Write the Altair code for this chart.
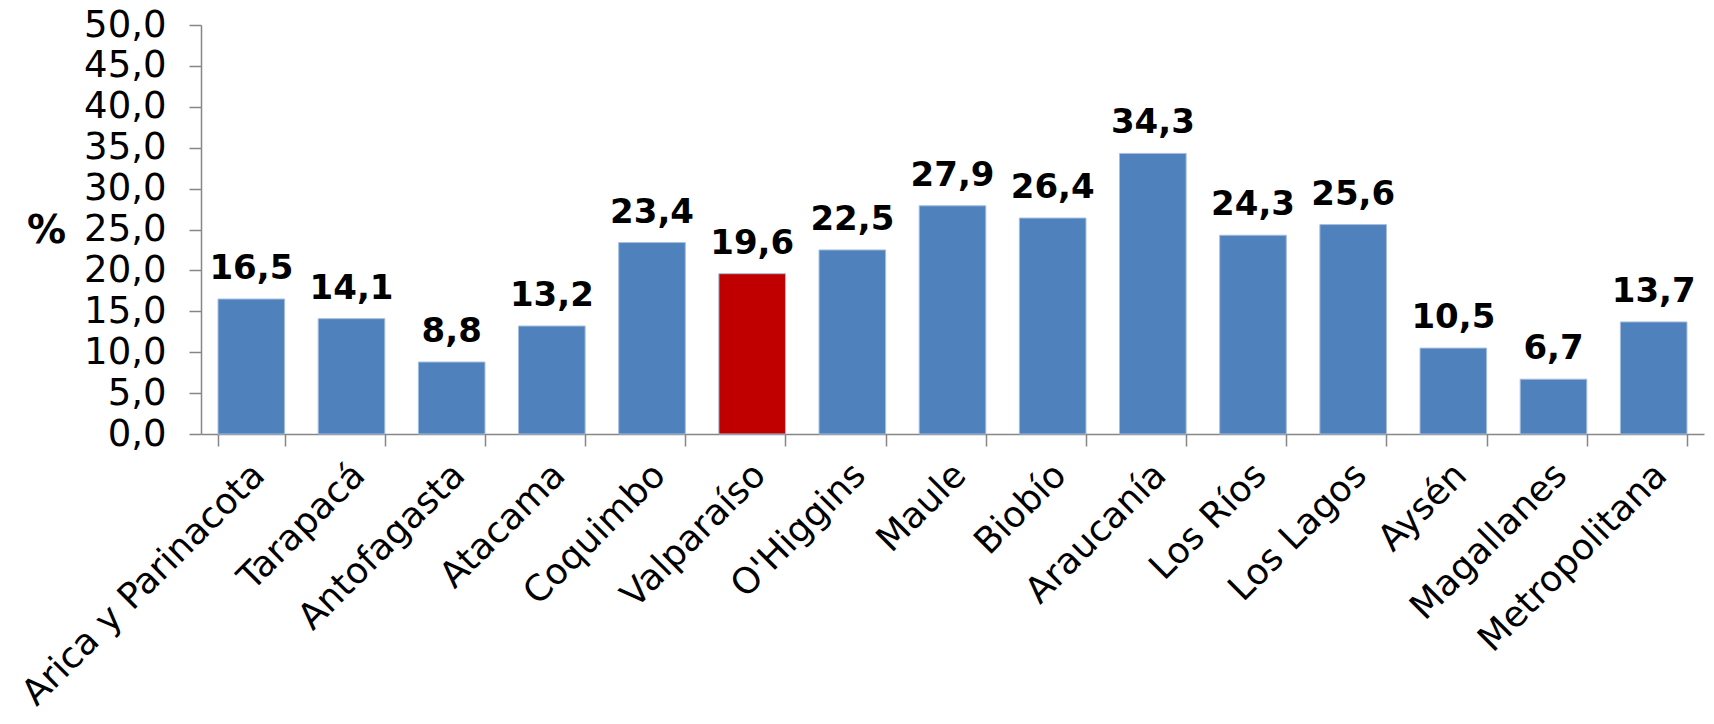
import altair as alt
import pandas as pd

regions = ["Arica y Parinacota", "Tarapacá", "Antofagasta", "Atacama", "Coquimbo",
           "Valparaíso", "O'Higgins", "Maule", "Biobío", "Araucanía", "Los Ríos",
           "Los Lagos", "Aysén", "Magallanes", "Metropolitana"]
values = [16.5, 14.1, 8.8, 13.2, 23.4, 19.6, 22.5, 27.9, 26.4, 34.3, 24.3, 25.6, 10.5, 6.7, 13.7]
highlight = "Valparaíso"

df = pd.DataFrame({"region": regions, "value": values})
df["hl"] = df["region"] == highlight

FONT = "DejaVu Sans"
AXIS_GRAY = "#868686"

base = alt.Chart(df).encode(
    x=alt.X("region:N", sort=regions, title=None,
            scale=alt.Scale(paddingInner=0.335, paddingOuter=0.17),
            axis=alt.Axis(labelAngle=-45, labelFontSize=36, labelFont=FONT, labelColor="black",
                          labelLimit=0, labelAlign="right", labelBaseline="top", labelOffset=-5,
                          domainColor=AXIS_GRAY, tickColor=AXIS_GRAY, tickSize=12,
                          tickBand="extent", labelPadding=11, domainWidth=1.5, tickWidth=1.5)),
)

bars = base.mark_bar(stroke="#A5BEDD", strokeWidth=1).encode(
    y=alt.Y("value:Q", title="%", scale=alt.Scale(domain=[0, 50], nice=False),
            axis=alt.Axis(values=[0, 5, 10, 15, 20, 25, 30, 35, 40, 45, 50],
                          labelExpr="replace(format(datum.value, '.1f'), '.', ',')",
                          labelFontSize=37, labelFont=FONT, labelColor="black",
                          domainColor=AXIS_GRAY, tickColor=AXIS_GRAY, tickSize=12,
                          domainWidth=1.5, tickWidth=1.5, grid=False, labelPadding=23,
                          titleAngle=0, titleFont=FONT, titleFontSize=39, titleFontWeight="bold",
                          titleX=-155, titleY=205, titleAlign="center", titleBaseline="middle")),
    color=alt.condition(alt.datum.hl, alt.value("#C00000"), alt.value("#4F81BD")),
)

labels = base.mark_text(font=FONT, fontSize=34, fontWeight="bold", color="black",
                        baseline="alphabetic", dy=-20).transform_calculate(
    lab="replace(format(datum.value, '.1f'), '.', ',')"
).encode(y="value:Q", text="lab:N")

chart = (bars + labels).properties(
    width=1503, height=409,
    autosize=alt.AutoSizeParams(type="none"),
    padding={"left": 193, "top": 17, "right": 2, "bottom": 282},
).configure_view(stroke=None)

chart.save("out.html", embed_options={"renderer": "svg", "actions": False})
